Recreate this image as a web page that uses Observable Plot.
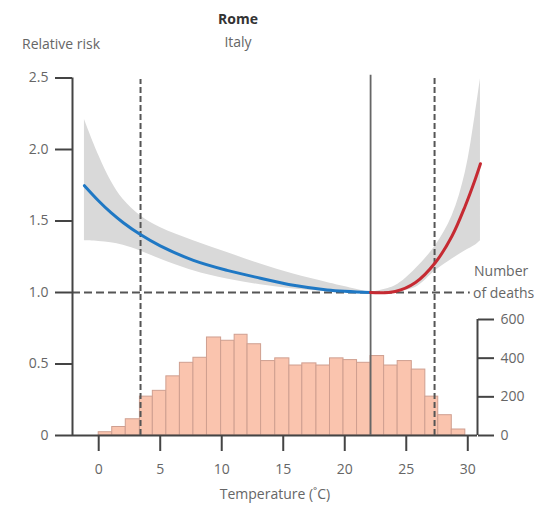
<!DOCTYPE html>
<html>
<head>
<meta charset="utf-8">
<script src="https://cdn.jsdelivr.net/npm/d3@7"></script>
<script src="https://cdn.jsdelivr.net/npm/@observablehq/plot@0.6"></script>
<style>
  html, body { margin: 0; padding: 0; background: #fff; }
  #wrap { position: relative; width: 557px; height: 506px; font-family: "Open Sans", sans-serif; color: #666; }
  #wrap svg { position: absolute; left: 0; top: 0; background: transparent; }
  .lbl { position: absolute; white-space: nowrap; font-size: 14px; line-height: 1; }
</style>
</head>
<body>
<div id="wrap">
  <div class="lbl" style="left:0;width:476px;top:12px;text-align:center;font-weight:700;color:#333;">Rome</div>
  <div class="lbl" style="left:0;width:476px;top:35px;text-align:center;">Italy</div>
  <div class="lbl" style="left:22px;top:37px;">Relative risk</div>
  <div class="lbl" style="left:474px;top:264px;">Number</div>
  <div class="lbl" style="left:473px;top:286px;">of deaths</div>
  <div class="lbl" style="left:0;width:550px;top:487px;text-align:center;">Temperature (˚C)</div>
</div>
<script>
// ---- data ----
// Histogram of deaths by temperature bin (°C)
const binEdges = [0.0, 1.1, 2.2, 3.35, 4.4, 5.5, 6.6, 7.7, 8.8, 9.95, 11.05, 12.1, 13.2, 14.35,
                  15.5, 16.55, 17.7, 18.8, 19.9, 21.0, 22.1, 23.2, 24.3, 25.45, 26.55, 27.6, 28.7, 29.8];
const deaths = [17, 44, 84, 201, 231, 306, 376, 402, 507, 490, 521, 472, 385, 399,
                362, 373, 362, 399, 390, 376, 411, 362, 385, 341, 201, 105, 31];

// Cold side relative risk (blue) with confidence band
const coldT  = [-1.16, 0.0, 1.0, 2.0, 3.39, 5.0, 7.7, 10.44, 13.15, 15.83, 18.57, 22.09];
const coldRR = [1.747, 1.64, 1.558, 1.488, 1.405, 1.326, 1.225, 1.155, 1.1, 1.05, 1.018, 1.0];
const coldLo = [1.362, 1.357, 1.348, 1.33, 1.29, 1.235, 1.152, 1.094, 1.054, 1.024, 1.006, 1.0];
const coldHi = [2.21, 1.96, 1.78, 1.65, 1.537, 1.455, 1.362, 1.28, 1.199, 1.129, 1.07, 1.0];

// Heat side relative risk (red) with confidence band
const heatT  = [22.09, 24.1, 25.75, 27.37, 28.73, 29.8, 30.6, 31.03];
const heatRR = [1.0, 1.007, 1.07, 1.21, 1.397, 1.607, 1.79, 1.90];
const heatLo = [1.0, 1.005, 1.035, 1.152, 1.234, 1.292, 1.33, 1.362];
const heatHi = [1.0, 1.047, 1.164, 1.327, 1.537, 1.84, 2.237, 2.494];

// Reference lines (°C): cold threshold, minimum mortality temperature, heat threshold
const coldThreshold = 3.4;
const mmt = 22.1;
const heatThreshold = 27.3;

// Ticks
const xTicks = [0, 5, 10, 15, 20, 25, 30];
const rrTicks = [0, 0.5, 1.0, 1.5, 2.0, 2.5];
const rrTickLabels = ["0", "0.5", "1.0", "1.5", "2.0", "2.5"];
const deathTicks = [0, 200, 400, 600];

// ---- build tables ----
const bins = deaths.map((d, i) => ({x1: binEdges[i], x2: binEdges[i + 1], deaths: d}));
const cold = coldT.map((t, i) => ({t, rr: coldRR[i], lo: coldLo[i], hi: coldHi[i]}));
const heat = heatT.map((t, i) => ({t, rr: heatRR[i], lo: heatLo[i], hi: heatHi[i]}));

const W = 557, H = 506;
const xDomain = [-2.13, 30.79];
const common = {
  width: W, height: H,
  marginLeft: 72, marginRight: 80, marginBottom: 71,
  style: {fontFamily: "Open Sans, sans-serif", fontSize: "14px", background: "transparent", overflow: "visible"}
};
const axisColor = "#444";
const textColor = "#666";

// Back layer: histogram, deaths axis, temperature axis
const back = Plot.plot({
  ...common,
  marginTop: 319,
  x: {domain: xDomain},
  y: {domain: [0, 600]},
  marks: [
    Plot.rect(bins, {x1: "x1", x2: "x2", y1: 0, y2: "deaths", fill: "#fac4ae", stroke: "#cf9f90", strokeWidth: 1}),
    Plot.ruleX([xDomain[1]], {y1: 0, y2: 600, stroke: axisColor, strokeWidth: 2}),
    Plot.ruleY([0], {x1: xDomain[0], x2: xDomain[1], stroke: axisColor, strokeWidth: 2}),
    Plot.axisY(deathTicks, {anchor: "right", tickSize: 16, tickPadding: 7, label: null,
      stroke: axisColor, fill: textColor, strokeWidth: 2, fontSize: 14, tickFormat: d => String(d)}),
    Plot.axisX(xTicks, {anchor: "bottom", tickSize: 16, tickPadding: 13, label: null,
      stroke: axisColor, fill: textColor, strokeWidth: 2, fontSize: 14, tickFormat: d => String(d)})
  ]
});

// Front layer: relative risk curves, bands, reference lines, RR axis
const front = Plot.plot({
  ...common,
  marginTop: 77.5,
  x: {domain: xDomain, axis: null},
  y: {domain: [0, 2.5]},
  marks: [
    Plot.areaY(cold, {x: "t", y1: "lo", y2: "hi", fill: "#d9d9d9", curve: "catmull-rom"}),
    Plot.areaY(heat, {x: "t", y1: "lo", y2: "hi", fill: "#d9d9d9", curve: "catmull-rom"}),
    Plot.ruleX([coldThreshold], {y1: 0, y2: 2.49, stroke: "#555", strokeWidth: 2, strokeDasharray: "6,3"}),
    Plot.ruleX([heatThreshold], {y1: 0, y2: 2.51, stroke: "#555", strokeWidth: 2, strokeDasharray: "6,3"}),
    Plot.ruleX([mmt], {y1: 0, y2: 2.52, stroke: "#666", strokeWidth: 1.8}),
    Plot.ruleY([1], {x1: xDomain[0], x2: 30.2, stroke: "#555", strokeWidth: 2, strokeDasharray: "8,4"}),
    Plot.line(cold, {x: "t", y: "rr", stroke: "#1f78c4", strokeWidth: 3, curve: "catmull-rom"}),
    Plot.line(heat, {x: "t", y: "rr", stroke: "#c62a32", strokeWidth: 3, curve: "catmull-rom"}),
    Plot.ruleX([xDomain[0]], {y1: 0, y2: 2.5, stroke: axisColor, strokeWidth: 2}),
    Plot.axisY(rrTicks, {anchor: "left", tickSize: 17, tickPadding: 7, label: null,
      stroke: axisColor, fill: textColor, strokeWidth: 2, fontSize: 14,
      tickFormat: d => rrTickLabels[rrTicks.indexOf(d)]})
  ]
});

const wrap = document.getElementById("wrap");
wrap.insertBefore(back, wrap.firstChild);
wrap.insertBefore(front, back.nextSibling);
</script>
</body>
</html>
